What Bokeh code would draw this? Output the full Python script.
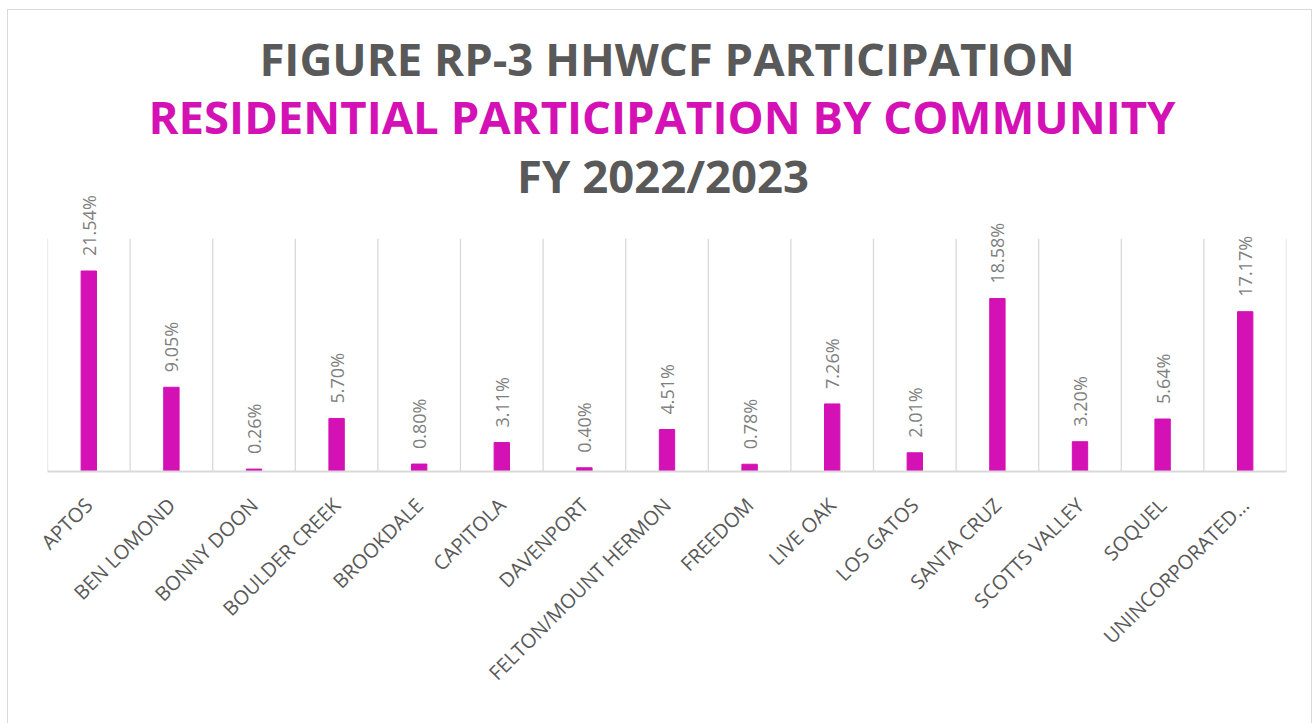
import math
import numpy as np
from bokeh.plotting import figure
from bokeh.models import (ColumnDataSource, FixedTicker, LabelSet, Label, Range1d)
from bokeh.core.properties import value
from bokeh.embed import file_html
from bokeh.resources import INLINE

# ---- data ----
communities = ["APTOS", "BEN LOMOND", "BONNY DOON", "BOULDER CREEK", "BROOKDALE",
               "CAPITOLA", "DAVENPORT", "FELTON/MOUNT HERMON", "FREEDOM", "LIVE OAK",
               "LOS GATOS", "SANTA CRUZ", "SCOTTS VALLEY", "SOQUEL", "UNINCORPORATED…"]
participation = [21.54, 9.05, 0.26, 5.70, 0.80, 3.11, 0.40, 4.51, 0.78, 7.26,
                 2.01, 18.58, 3.20, 5.64, 17.17]
title_lines = ["FIGURE RP-3 HHWCF PARTICIPATION",
               "RESIDENTIAL PARTICIPATION BY COMMUNITY",
               "FY 2022/2023"]
value_axis_max = 25

MAGENTA = "#D411B4"
DARK = "#595959"
LABEL_GRAY = "#7F7F7F"
GRID = "#D9D9D9"
FONT = "Open Sans"

n = len(communities)
xpos = np.arange(n) + 0.5
src = ColumnDataSource(dict(
    x=xpos,
    top=participation,
    lbl=[f"{v:.2f}%" for v in participation],
))

# ---- layout ----
FIG_LEFT, FIG_TOP = 7, 9          # page position of the chart box
FIG_W, FIG_H = 1305, 714
BOTTOM = 253                       # space under the plot frame (axis labels)
frame_top_page = FIG_TOP + 1
frame_bottom_page = frame_top_page + FIG_H - BOTTOM
px_per_unit = 232.7 / value_axis_max
y_end = (FIG_H - BOTTOM) / px_per_unit

p = figure(width=FIG_W, height=FIG_H, output_backend="svg", toolbar_location=None,
           title=None, x_range=Range1d(0, n), y_range=Range1d(0, y_end),
           min_border_left=39, min_border_right=27, min_border_top=0,
           min_border_bottom=BOTTOM)
p.outline_line_color = None
p.background_fill_color = "white"
p.border_fill_color = "white"
p.styles = {"margin-left": f"{FIG_LEFT}px", "margin-top": f"{FIG_TOP}px",
            "border": "1px solid #D9D9D9", "border-bottom": "none"}


def py(page_y):
    """page pixel y (from top of page) -> data y"""
    return (frame_bottom_page - page_y) / px_per_unit


# titles
BASELINE_FIX = 18
for text, color, base, dx in [(title_lines[0], DARK, 75, 0),
                              (title_lines[1], MAGENTA, 133, -5),
                              (title_lines[2], DARK, 192, -4)]:
    p.add_layout(Label(x=n / 2, y=py(base - BASELINE_FIX), x_offset=dx, text=text,
                       text_align="center", text_baseline="alphabetic",
                       text_color=color, text_font=FONT, text_font_size="45.5px",
                       text_font_style="bold"))

# category separator gridlines (from 0 to value axis max)
bounds = np.arange(n + 1)
p.segment(x0=bounds, y0=0, x1=bounds, y1=value_axis_max,
          line_color=GRID, line_width=1.3)

p.vbar(x="x", top="top", width=0.186, source=src, fill_color=MAGENTA, line_color=MAGENTA)

labels = LabelSet(x="x", y="top", text="lbl", source=src, angle=math.pi / 2,
                  text_align="left", text_baseline="middle", y_offset=15,
                  text_font=value(FONT), text_font_size="18px", text_color=LABEL_GRAY)
p.add_layout(labels)

# axes
p.yaxis.visible = False
p.ygrid.visible = False
p.xgrid.visible = False

ax = p.xaxis[0]
ax.ticker = FixedTicker(ticks=list(xpos))
ax.major_label_overrides = {float(x): c for x, c in zip(xpos, communities)}
ax.major_label_orientation = math.pi / 4
ax.major_label_standoff = 24
ax.major_label_text_font = FONT
ax.major_label_text_font_size = "20px"
ax.major_label_text_color = DARK
ax.major_tick_line_color = None
ax.minor_tick_line_color = None
ax.axis_line_color = GRID
ax.axis_line_width = 2

open("out.html", "w").write(file_html(p, INLINE))
